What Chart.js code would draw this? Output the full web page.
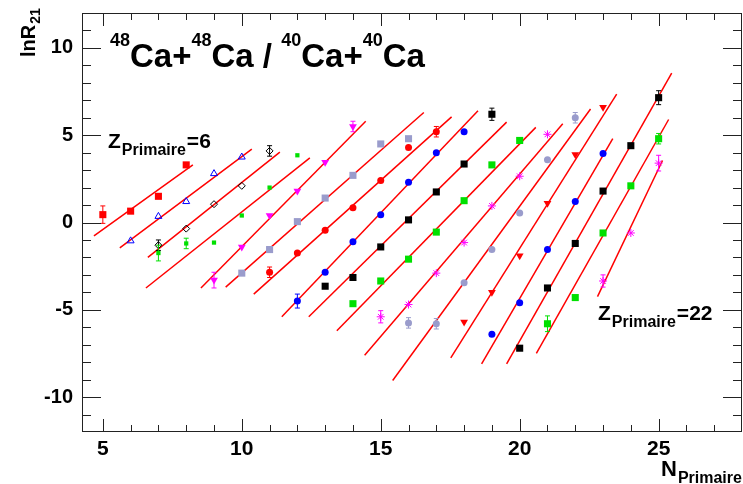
<!DOCTYPE html>
<html>
<head>
<meta charset="utf-8">
<script src="https://cdn.jsdelivr.net/npm/chart.js@4/dist/chart.umd.min.js"></script>
<style>
  body { margin: 0; background: #fff; }
</style>
</head>
<body>
<canvas id="chart" width="743" height="484"></canvas>
<script>
// Z du fragment primaire, un jeu de points par Z
const zPrimaire = [6, 7, 8, 9, 10, 11, 12, 13, 14, 15, 16, 17, 18, 19, 20, 21, 22];
// premier N de chaque serie (les N suivants sont consecutifs)
const firstN = [5, 6, 7, 7, 9, 10, 11, 12, 13, 14, 15, 16, 18, 19, 20, 21, 23];
// ln R21
const lnR = [
    [0.45, 0.65, 1.5, 3.3],
    [-1.05, 0.35, 1.2, 2.8, 3.75],
    [-1.3, -0.35, 1.05, 2.1, 4.1],
    [-1.75, -1.2, -1.15, 0.4, 2.0, 3.85],
    [-3.3, -1.4, 0.4, 1.8, 3.45, 5.5],
    [-2.9, -1.55, 0.05, 1.4, 2.7, 4.5, 4.8],
    [-2.85, -1.75, -0.45, 0.85, 2.4, 4.3, 5.2],
    [-4.5, -2.85, -1.1, 0.45, 2.3, 4.0, 5.2],
    [-3.65, -3.15, -1.4, 0.15, 1.75, 3.35, 6.2],
    [-4.65, -3.35, -2.1, -0.55, 1.25, 3.3, 4.7],
    [-5.4, -4.7, -2.9, -1.15, 0.95, 2.65, 5.05],
    [-5.75, -5.8, -3.45, -1.55, 0.55, 3.6, 6.0],
    [-5.7, -4.0, -1.9, 1.1, 3.9, 6.6],
    [-6.4, -4.6, -1.55, 1.2, 3.95],
    [-7.2, -3.75, -1.2, 1.8, 4.4, 7.15],
    [-5.8, -4.3, -0.6, 2.1, 4.8],
    [-3.35, -0.6, 3.4]
];
const lnRErr = [
    [0.5, 0.15, 0.15, 0.2],
    [0.25, 0.1, 0.1, 0.1, 0.25],
    [0.3, 0.1, 0.1, 0.1, 0.3],
    [0.45, 0.3, 0.25, 0.1, 0.15, 0.25],
    [0.45, 0.1, 0.1, 0.1, 0.15, 0.3],
    [0.15, 0.15, 0.1, 0.1, 0.1, 0.2, 0.25],
    [0.3, 0.1, 0.1, 0.1, 0.15, 0.2, 0.3],
    [0.4, 0.1, 0.1, 0.1, 0.1, 0.2, 0.25],
    [0.25, 0.15, 0.1, 0.1, 0.1, 0.1, 0.35],
    [0.2, 0.1, 0.1, 0.1, 0.1, 0.1, 0.2],
    [0.35, 0.2, 0.1, 0.15, 0.1, 0.2, 0.2],
    [0.3, 0.3, 0.1, 0.1, 0.1, 0.15, 0.3],
    [0.2, 0.15, 0.1, 0.1, 0.1, 0.25],
    [0.25, 0.1, 0.1, 0.1, 0.1],
    [0.25, 0.15, 0.15, 0.1, 0.2, 0.4],
    [0.45, 0.2, 0.15, 0.15, 0.3],
    [0.35, 0.2, 0.45]
];
// droites d'ajustement (debut / fin)
const fitStartN = [4.68, 5.61, 6.62, 6.55, 8.53, 9.42, 10.43, 11.44, 12.41, 13.42, 14.42, 15.43, 17.52, 18.63, 19.53, 20.6, 22.8];
const fitStartY = [-0.76, -1.45, -2.0, -3.75, -3.75, -3.7, -4.1, -5.4, -5.4, -6.2, -7.6, -9.05, -7.75, -8.1, -8.1, -7.5, -4.25];
const fitEndN = [8.24, 10.36, 11.37, 12.45, 14.46, 16.55, 17.55, 18.5, 19.53, 20.58, 21.55, 22.55, 23.49, 23.35, 25.47, 25.36, 25.14];
const fitEndY = [3.3, 4.2, 4.03, 3.7, 5.8, 6.3, 6.05, 6.4, 5.75, 5.45, 5.65, 6.5, 7.35, 4.8, 8.55, 5.9, 3.55];

const xTickLabels = [5, 10, 15, 20, 25];
const yTickLabels = [-10, -5, 0, 5, 10];

const colorCycle = ['#ff0000', '#0000ff', '#000000', '#00e000', '#ff00ff', '#9a9ccc'];
const markerStyle = ['rect', 'triOpen', 'diaOpen', 'small', 'triDown', 'rect', 'circle', 'circle', 'rect',
    'rect', 'star', 'circle', 'triDown', 'circle', 'rect', 'rect', 'star'];

const FONT = '"Liberation Sans", Arial, Helvetica, sans-serif';

function markerOptions(kind, color) {
    switch (kind) {
        case 'rect': return { pointStyle: 'rect', pointRadius: 5, backgroundColor: color, borderColor: color, borderWidth: 0 };
        case 'small': return { pointStyle: 'rect', pointRadius: 3, backgroundColor: color, borderColor: color, borderWidth: 0 };
        case 'triOpen': return { pointStyle: 'triangle', pointRadius: 4, backgroundColor: 'rgba(0,0,0,0)', borderColor: color, borderWidth: 1 };
        case 'diaOpen': return { pointStyle: 'rectRot', pointRadius: 3.5, backgroundColor: 'rgba(0,0,0,0)', borderColor: color, borderWidth: 1 };
        case 'triDown': return { pointStyle: 'triangle', pointRotation: 180, pointRadius: 4.5, backgroundColor: color, borderColor: color, borderWidth: 0 };
        case 'star': return { pointStyle: 'star', pointRadius: 4, backgroundColor: color, borderColor: color, borderWidth: 1 };
        default: return { pointStyle: 'circle', pointRadius: 3.5, backgroundColor: color, borderColor: color, borderWidth: 0 };
    }
}

const datasets = [];
zPrimaire.forEach((z, i) => {
    datasets.push({
        label: 'fit Z=' + z,
        type: 'line',
        data: [{ x: fitStartN[i], y: fitStartY[i] }, { x: fitEndN[i], y: fitEndY[i] }],
        borderColor: '#ff0000',
        borderWidth: 1.5,
        pointRadius: 0,
        fill: false,
        order: 2
    });
});
zPrimaire.forEach((z, i) => {
    const color = colorCycle[i % colorCycle.length];
    const pts = lnR[i].map((v, k) => ({ x: firstN[i] + k, y: v, err: lnRErr[i][k] }));
    datasets.push(Object.assign({
        label: 'Z=' + z,
        data: pts,
        errColor: color,
        showLine: false,
        order: 1
    }, markerOptions(markerStyle[i], color)));
});

// barres d'erreur
const errorBars = {
    id: 'errorBars',
    afterDatasetsDraw(chart) {
        const ctx = chart.ctx;
        const yScale = chart.scales.y;
        ctx.save();
        ctx.lineWidth = 1;
        chart.data.datasets.forEach((ds, di) => {
            if (!ds.errColor) return;
            const meta = chart.getDatasetMeta(di);
            ctx.strokeStyle = ds.errColor;
            meta.data.forEach((el, k) => {
                const p = ds.data[k];
                const y1 = yScale.getPixelForValue(p.y - p.err);
                const y2 = yScale.getPixelForValue(p.y + p.err);
                if (y1 - y2 < 9) return;
                ctx.beginPath();
                ctx.moveTo(el.x, y1); ctx.lineTo(el.x, y2);
                ctx.moveTo(el.x - 2.5, y1); ctx.lineTo(el.x + 2.5, y1);
                ctx.moveTo(el.x - 2.5, y2); ctx.lineTo(el.x + 2.5, y2);
                ctx.stroke();
            });
        });
        ctx.restore();
    }
};

// cadre et graduations a la ROOT
const rootFrame = {
    id: 'rootFrame',
    afterDraw(chart) {
        const ctx = chart.ctx;
        const a = chart.chartArea;
        const xs = chart.scales.x, ys = chart.scales.y;
        ctx.save();
        ctx.strokeStyle = '#222';
        ctx.lineWidth = 1;
        ctx.strokeRect(a.left + 0.5, a.top + 0.5, a.right - a.left - 1, a.bottom - a.top - 1);
        ctx.beginPath();
        for (let n = 5; n <= 27; n++) {
            const px = Math.round(xs.getPixelForValue(n)) + 0.5;
            const len = n % 5 === 0 ? 13 : 7;
            ctx.moveTo(px, a.bottom); ctx.lineTo(px, a.bottom - len);
            ctx.moveTo(px, a.top); ctx.lineTo(px, a.top + len);
        }
        for (let v = -11; v <= 11; v++) {
            const py = Math.round(ys.getPixelForValue(v)) + 0.5;
            const len = v % 5 === 0 ? 19 : 9;
            ctx.moveTo(a.left, py); ctx.lineTo(a.left + len, py);
            ctx.moveTo(a.right, py); ctx.lineTo(a.right - len, py);
        }
        ctx.stroke();

        ctx.fillStyle = '#000';
        ctx.textBaseline = 'alphabetic';
        ctx.textAlign = 'left';
        // titre
        let x = 110;
        const big = 'bold 33px ' + FONT, sup = 'bold 18px ' + FONT;
        [['48', 1], ['Ca+', 0], ['48', 1], ['Ca / ', 0], ['40', 1], ['Ca+', 0], ['40', 1], ['Ca', 0]].forEach(([t, s]) => {
            ctx.font = s ? sup : big;
            ctx.fillText(t, x, s ? 46 : 67);
            x += ctx.measureText(t).width;
        });

        function zLabel(txt, x0, base, bigSize, subSize) {
            ctx.font = 'bold ' + bigSize + 'px ' + FONT;
            ctx.fillText(txt[0], x0, base);
            let xx = x0 + ctx.measureText(txt[0]).width + 1;
            ctx.font = 'bold ' + subSize + 'px ' + FONT;
            ctx.fillText(txt[1], xx, base + 7);
            xx += ctx.measureText(txt[1]).width + 1;
            ctx.font = 'bold ' + bigSize + 'px ' + FONT;
            if (txt[2]) ctx.fillText(txt[2], xx, base);
        }
        zLabel(['Z', 'Primaire', '=6'], 108, 148, 21, 16);
        zLabel(['Z', 'Primaire', '=22'], 598, 320, 21, 16);
        zLabel(['N', 'Primaire', ''], 661, 476, 22, 16);

        // titre axe y
        ctx.save();
        ctx.translate(35, 57);
        ctx.rotate(-Math.PI / 2);
        ctx.font = 'bold 20px ' + FONT;
        ctx.fillText('lnR', 0, 0);
        const w = ctx.measureText('lnR').width;
        ctx.font = 'bold 14px ' + FONT;
        ctx.fillText('21', w + 1, 5);
        ctx.restore();
        ctx.restore();
    }
};

new Chart(document.getElementById('chart'), {
    type: 'scatter',
    data: { datasets: datasets },
    options: {
        responsive: false,
        animation: false,
        layout: { autoPadding: false, padding: { top: 13, right: 1, left: 0, bottom: 0 } },
        plugins: { legend: { display: false }, tooltip: { enabled: false } },
        scales: {
            x: {
                type: 'linear',
                min: 4.25,
                max: 28,
                grid: { display: false, drawTicks: false },
                border: { display: false },
                ticks: { font: { family: FONT, size: 21, weight: 'bold' }, color: '#000', padding: 5, autoSkip: false, maxRotation: 0 },
                afterBuildTicks: (s) => { s.ticks = xTickLabels.map(v => ({ value: v })); },
                afterFit: (s) => { s.height = 52; s.paddingLeft = 0; s.paddingRight = 0; }
            },
            y: {
                type: 'linear',
                min: -12,
                max: 12,
                grid: { display: false, drawTicks: false },
                border: { display: false },
                ticks: { font: { family: FONT, size: 20, weight: 'bold' }, color: '#000', padding: 9, autoSkip: false },
                afterBuildTicks: (s) => { s.ticks = yTickLabels.map(v => ({ value: v })); },
                afterFit: (s) => { s.width = 82; s.paddingTop = 0; s.paddingBottom = 0; }
            }
        }
    },
    plugins: [errorBars, rootFrame]
});
</script>
</body>
</html>
